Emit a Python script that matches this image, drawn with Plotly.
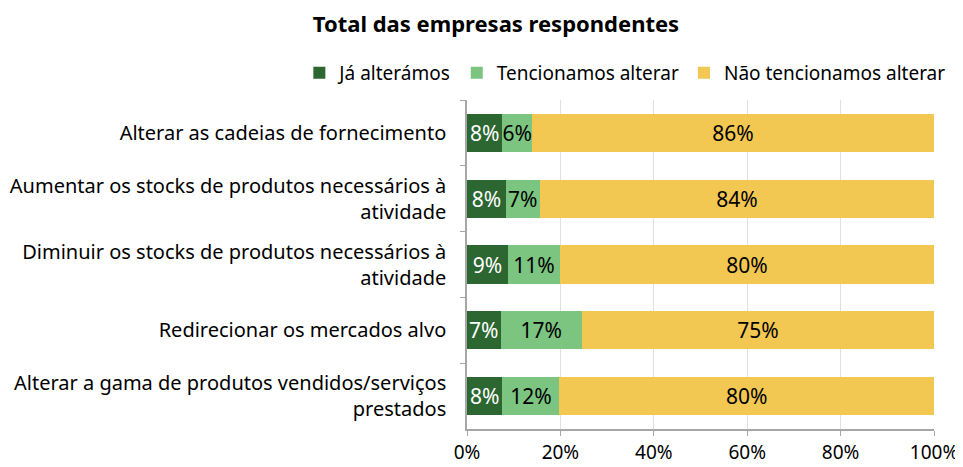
import plotly.graph_objects as go

# Categorias (de cima para baixo)
categorias = [
    "Alterar as cadeias de fornecimento",
    "Aumentar os stocks de produtos necessários à<br>atividade",
    "Diminuir os stocks de produtos necessários à<br>atividade",
    "Redirecionar os mercados alvo",
    "Alterar a gama de produtos vendidos/serviços<br>prestados",
]

ja_alteramos = [7.6, 8.3, 8.8, 7.2, 7.6]
tencionamos = [6.3, 7.3, 11.1, 17.4, 12.2]
nao_tencionamos = [86.1, 84.4, 80.1, 75.4, 80.2]
rotulos_x = ["0%", "20%", "40%", "60%", "80%", "100%"]

series = [
    ("Já alterámos", ja_alteramos, "#2c6631", "white"),
    ("Tencionamos alterar", tencionamos, "#7bc580", "black"),
    ("Não tencionamos alterar", nao_tencionamos, "#f2c752", "black"),
]

fonte = "Noto Sans"

fig = go.Figure()
for nome, valores, cor, cor_texto in series:
    fig.add_trace(go.Bar(
        y=categorias,
        x=valores,
        name=nome,
        orientation="h",
        marker=dict(color=cor, line=dict(width=0)),
        text=[f"{round(v):.0f}%" for v in valores],
        textposition="inside",
        insidetextanchor="middle",
        textangle=0,
        constraintext="none",
        textfont=dict(family=fonte, size=21, color=cor_texto),
    ))

# a página tem margem de 8px no body, por isso a figura é 8px mais pequena
fig.update_layout(
    barmode="stack",
    bargap=0.42,
    width=955,
    height=459,
    margin=dict(l=459, r=29, t=92, b=38, autoexpand=False),
    plot_bgcolor="white",
    paper_bgcolor="white",
    font=dict(family=fonte, size=20, color="black"),
    title=dict(
        text="<b>Total das empresas respondentes</b>",
        x=0.511, xref="container", xanchor="center",
        y=0.965, yanchor="middle",
        font=dict(family=fonte, size=22, color="black"),
    ),
    legend=dict(
        orientation="h",
        x=-0.359, xanchor="left",
        y=1.082, yanchor="middle",
        font=dict(family=fonte, size=19),
        itemwidth=30,
        traceorder="normal",
        tracegroupgap=0,
    ),
    xaxis=dict(
        range=[0, 100],
        tickvals=[0, 20, 40, 60, 80, 100],
        ticktext=rotulos_x,
        showgrid=True,
        gridcolor="#e0e0e0",
        showline=True,
        linecolor="#a6a6a6",
        linewidth=1.5,
        ticks="outside",
        tickcolor="#a6a6a6",
        ticklen=5,
        tickfont=dict(family=fonte, size=19),
        zeroline=False,
    ),
    yaxis=dict(
        autorange="reversed",
        showline=True,
        linecolor="#a6a6a6",
        linewidth=1.5,
        ticks="outside",
        tickson="boundaries",
        tickcolor="#a6a6a6",
        ticklen=5,
        tickfont=dict(family=fonte, size=20),
        ticklabelstandoff=15,
    ),
)

fig.write_html("out.html")
